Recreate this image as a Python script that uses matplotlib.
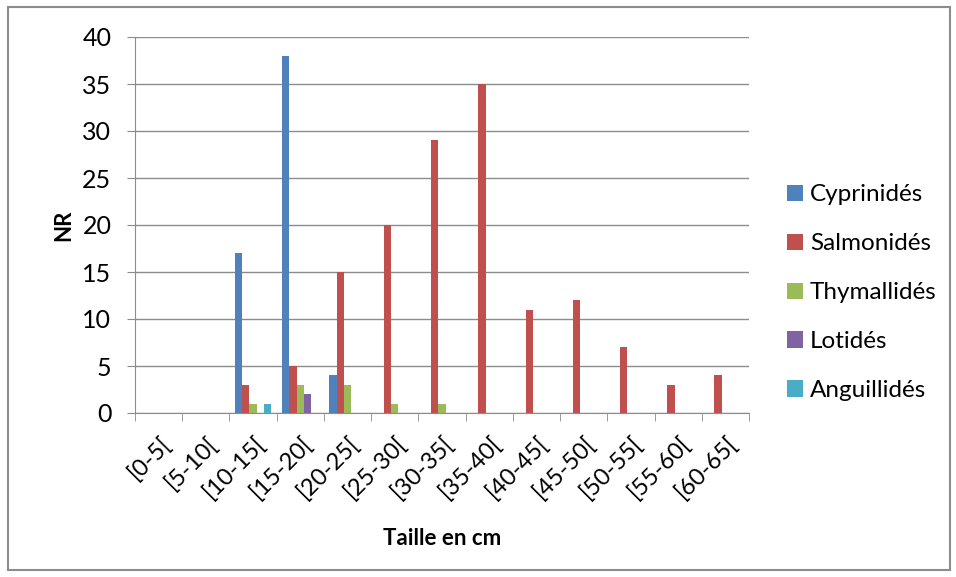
import matplotlib
matplotlib.use("Agg")
import matplotlib.pyplot as plt
from matplotlib.patches import Rectangle
import matplotlib.transforms as mtransforms
import numpy as np

categories = ["[0-5[", "[5-10[", "[10-15[", "[15-20[", "[20-25[", "[25-30[", "[30-35[",
              "[35-40[", "[40-45[", "[45-50[", "[50-55[", "[55-60[", "[60-65["]
cyprinides = [0, 0, 17, 38, 4, 0, 0, 0, 0, 0, 0, 0, 0]
salmonides = [0, 0, 3, 5, 15, 20, 29, 35, 11, 12, 7, 3, 4]
thymallides = [0, 0, 1, 3, 3, 1, 1, 0, 0, 0, 0, 0, 0]
lotides = [0, 0, 0, 2, 0, 0, 0, 0, 0, 0, 0, 0, 0]
anguillides = [0, 0, 1, 0, 0, 0, 0, 0, 0, 0, 0, 0, 0]
series_names = ["Cyprinidés", "Salmonidés", "Thymallidés", "Lotidés", "Anguillidés"]
colors = ["#4F81BD", "#C0504D", "#9BBB59", "#8064A2", "#4BACC6"]

plt.rcParams['font.family'] = ['Lato', 'DejaVu Sans']

fig = plt.figure(figsize=(9.56, 5.77), dpi=100)
fig.patches.append(Rectangle((8/956, 1-570/577), 942/956, 563/577, transform=fig.transFigure,
                             fill=False, edgecolor="#8c8c8c", linewidth=1.5))
ax = fig.add_axes([135/956, 164/577, 614/956, 376/577])

x = np.arange(len(categories))
data = [cyprinides, salmonides, thymallides, lotides, anguillides]
n = len(data)
bw = 1 / (n + 1.5)
for i, (vals, name, c) in enumerate(zip(data, series_names, colors)):
    ax.bar(x + (i - (n - 1) / 2) * bw, vals, width=bw, color=c, label=name, zorder=3)

ax.set_xlim(-0.5, len(categories) - 0.5)
ax.set_ylim(0, 40)
ax.set_yticks(range(0, 41, 5))
ax.yaxis.grid(True, color="#8c8c8c", linewidth=1.0, zorder=0)
ax.set_xticks(x)
ax.set_xticklabels(categories, rotation=45, ha="right", rotation_mode="anchor")
ax.tick_params(axis="x", length=0, labelsize=17, pad=14)
offset = mtransforms.ScaledTranslation(1/100, 0, fig.dpi_scale_trans)
for lbl in ax.get_xticklabels():
    lbl.set_transform(lbl.get_transform() + offset)
ax.set_xticks(np.arange(-0.5, len(categories)), minor=True)
ax.tick_params(axis="x", which="minor", length=6, color="#8c8c8c")
ax.tick_params(axis="y", length=6, color="#8c8c8c", labelsize=18, pad=11)
for s in ["top", "right"]:
    ax.spines[s].set_visible(False)
for s in ["left", "bottom"]:
    ax.spines[s].set_color("#8c8c8c")

ax.set_ylabel("NR", fontsize=16, fontweight="bold", labelpad=6)
ax.set_xlabel("Taille en cm", fontsize=16, fontweight="bold", labelpad=18)

leg = ax.legend(loc="center left", bbox_to_anchor=(1.026, 0.32), frameon=False,
                fontsize=17.5, handlelength=0.65, handleheight=0.65, handletextpad=0.3,
                labelspacing=1.15)

fig.savefig("out.png", dpi=100)
